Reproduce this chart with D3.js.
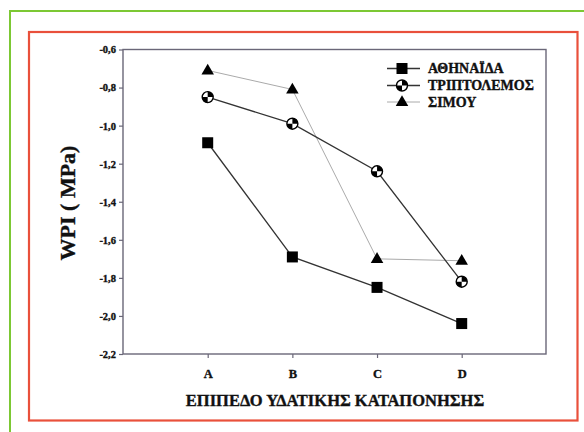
<!DOCTYPE html>
<html><head><meta charset="utf-8">
<script src="https://cdn.jsdelivr.net/npm/d3@7/dist/d3.min.js"></script>
<style>body{margin:0;background:#fff;}svg{display:block;} text{font-family:"Liberation Serif","Times New Roman",serif;font-weight:bold;stroke:#111;stroke-width:0.35px;}</style>
</head><body>
<script>
const categories = ["A","B","C","D"];
const seriesNames = ["ΑΘΗΝΑΪΔΑ","ΤΡΙΠΤΟΛΕΜΟΣ","ΣΙΜΟΥ"];
const athinaida = [-1.09,-1.69,-1.85,-2.04];
const triptolemos = [-0.85,-0.99,-1.24,-1.82];
const simou = [-0.71,-0.81,-1.70,-1.71];
const yTicks = [-0.6,-0.8,-1.0,-1.2,-1.4,-1.6,-1.8,-2.0,-2.2];
const yTitle = "WPI ( MPa)";
const xTitle = "ΕΠΙΠΕΔΟ ΥΔΑΤΙΚΗΣ ΚΑΤΑΠΟΝΗΣΗΣ";

const W=584,H=432;
const svg=d3.select("body").append("svg").attr("width",W).attr("height",H);
svg.append("rect").attr("x",10).attr("y",11).attr("width",600).attr("height",450)
  .attr("fill","none").attr("stroke","#7cc834").attr("stroke-width",2);
svg.append("rect").attr("x",29).attr("y",32).attr("width",548.5).attr("height",388.5)
  .attr("fill","none").attr("stroke","#e9503b").attr("stroke-width",2.2);

const L=123,R=546,T=49.5,B=354;
const x=d3.scalePoint().domain(categories).range([207.7,461.7]);
const y=d3.scaleLinear().domain([-2.2,-0.6]).range([B,T]);
const frameColor="#6a6778";

svg.append("rect").attr("x",L).attr("y",T).attr("width",R-L).attr("height",B-T)
  .attr("fill","none").attr("stroke",frameColor).attr("stroke-width",1.4);

const fmt=d=>d3.format(".1f")(d).replace(".",",").replace("−","-");
const yAxis=svg.append("g").attr("transform",`translate(${L},0)`)
  .call(d3.axisLeft(y).tickValues(yTicks).tickSize(4).tickPadding(3).tickFormat(fmt));
const xAxis=svg.append("g").attr("transform",`translate(0,${B})`)
  .call(d3.axisBottom(x).tickSize(4).tickPadding(11));
[yAxis,xAxis].forEach(g=>{
  g.attr("font-family",null);
  g.select(".domain").remove();
  g.selectAll(".tick line").attr("stroke",frameColor).attr("stroke-width",1.2);
  g.selectAll("text").attr("fill","#111");
});
yAxis.selectAll("text").style("font-size","10.5px");
xAxis.selectAll("text").style("font-size","12.5px");

svg.append("text").attr("transform","translate(75,203) rotate(-90)")
  .attr("text-anchor","middle").style("font-size","22px").attr("fill","#111").text(yTitle);
svg.append("text").attr("x",335).attr("y",406).attr("text-anchor","middle")
  .style("font-size","16.5px").attr("fill","#111").text(xTitle);

const series=[
  {name:seriesNames[0],vals:athinaida,sym:"square",stroke:"#333",sw:1.3},
  {name:seriesNames[1],vals:triptolemos,sym:"circle",stroke:"#333",sw:1.3},
  {name:seriesNames[2],vals:simou,sym:"triangle",stroke:"#aaa",sw:1}
];
const line=d3.line().x((d,i)=>x(categories[i])).y(d=>y(d));

function drawSym(g,type,cx,cy){
  if(type==="square"){
    g.append("rect").attr("x",cx-5.5).attr("y",cy-5.5).attr("width",11).attr("height",11).attr("fill","#000");
  } else if(type==="triangle"){
    g.append("path").attr("d",d3.symbol().type(d3.symbolTriangle).size(68)())
      .attr("transform",`translate(${cx},${cy+0.5})`).attr("fill","#000");
  } else {
    const r=5.5;
    g.append("circle").attr("cx",cx).attr("cy",cy).attr("r",r).attr("fill","#fff").attr("stroke","#000").attr("stroke-width",1.4);
    const arc=d3.arc().innerRadius(0).outerRadius(r);
    g.append("path").attr("d",arc({startAngle:0,endAngle:Math.PI/2})).attr("transform",`translate(${cx},${cy})`).attr("fill","#000");
    g.append("path").attr("d",arc({startAngle:Math.PI,endAngle:Math.PI*1.5})).attr("transform",`translate(${cx},${cy})`).attr("fill","#000");
  }
}

[2,0,1].forEach(k=>{
  const s=series[k];
  svg.append("path").attr("d",line(s.vals)).attr("fill","none").attr("stroke",s.stroke).attr("stroke-width",s.sw);
});
[2,0,1].forEach(k=>{
  const s=series[k];
  const g=svg.append("g");
  s.vals.forEach((v,i)=>drawSym(g,s.sym,x(categories[i]),y(v)));
});

const legY=[68.5,85.5,102];
series.forEach((s,i)=>{
  const g=svg.append("g");
  g.append("line").attr("x1",387).attr("x2",420).attr("y1",legY[i]).attr("y2",legY[i])
    .attr("stroke",s.stroke).attr("stroke-width",s.sw);
  drawSym(g,s.sym,402,legY[i]);
  g.append("text").attr("x",428).attr("y",legY[i]+4.8).style("font-size","14px")
    .attr("fill","#111").text(s.name);
});
</script>
</body></html>
